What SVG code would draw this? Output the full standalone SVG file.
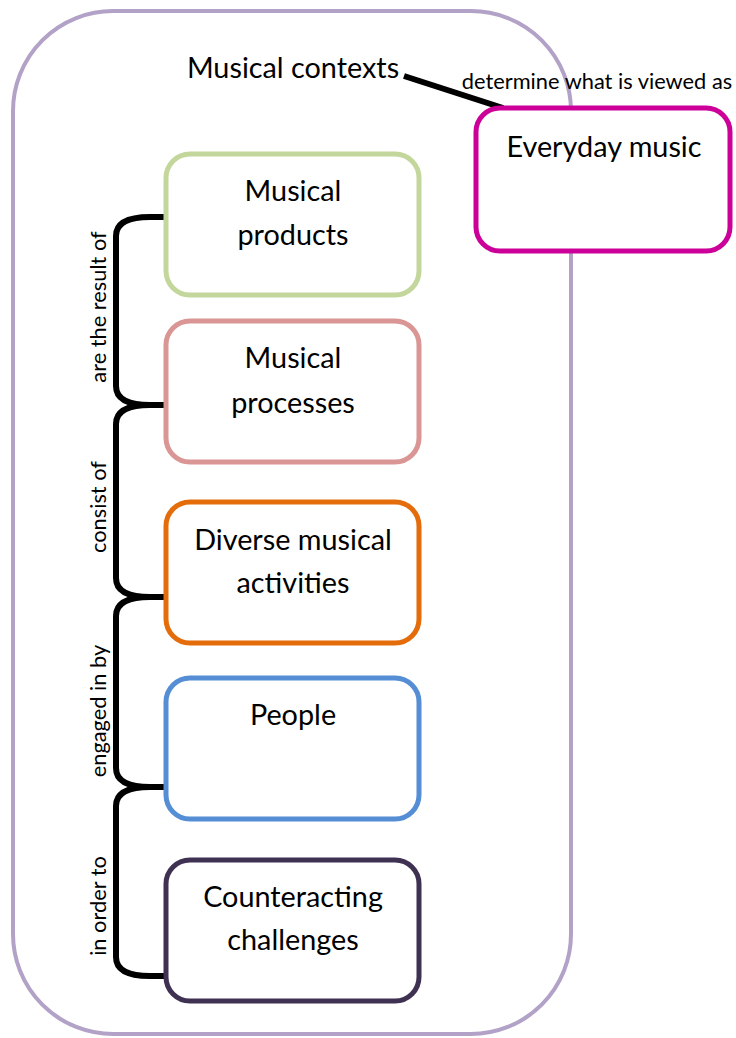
<svg xmlns="http://www.w3.org/2000/svg" width="736" height="1038" viewBox="0 0 736 1038">
  <style>
    .box { fill: #ffffff; stroke-width: 5; }
    .lbl { font-family: Lato, "Open Sans", sans-serif; font-size: 28.8px; fill: #000; text-anchor: middle; }
    .small { font-family: Lato, "Open Sans", sans-serif; font-size: 21.8px; fill: #000; text-anchor: middle; }
    .brace { fill: none; stroke: #000; stroke-width: 6; stroke-linejoin: round; }
  </style>
  <rect width="736" height="1038" fill="#ffffff"/>

  <!-- outer context frame -->
  <g id="musical-contexts">
    <rect x="13" y="11" width="558" height="1023" rx="100" ry="100" fill="none" stroke="#b3a2c7" stroke-width="4"/>
    <text class="lbl" x="293" y="78">Musical contexts</text>
  </g>

  <!-- connectors -->
  <g id="connectors">
    <line x1="404" y1="76" x2="503" y2="108" stroke="#000" stroke-width="6"/>
    <text class="small" x="597" y="89">determine what is viewed as</text>
    <path class="brace" d="M165,217 L150,217 Q116,217 116,236 L116,386 Q116,405 150,405 L165,405"/>
    <path class="brace" d="M165,405 L150,405 Q116,405 116,424 L116,578 Q116,597 150,597 L165,597"/>
    <path class="brace" d="M165,597 L150,597 Q116,597 116,616 L116,768 Q116,787 150,787 L165,787"/>
    <path class="brace" d="M165,787 L150,787 Q116,787 116,806 L116,957 Q116,976 150,976 L165,976"/>
    <text class="small" transform="translate(106,307) rotate(-90)">are the result of</text>
    <text class="small" transform="translate(106,507) rotate(-90)">consist of</text>
    <text class="small" transform="translate(106,711) rotate(-90)">engaged in by</text>
    <text class="small" transform="translate(106,906) rotate(-90)">in order to</text>
  </g>

  <g id="everyday-music">
    <rect class="box" x="476" y="108" width="254" height="143" rx="24" stroke="#cc0099"/>
    <text class="lbl" x="604" y="157">Everyday music</text>
  </g>

  <g id="musical-products">
    <rect class="box" x="166" y="154" width="253" height="141" rx="24" stroke="#c3d69b"/>
    <text class="lbl" x="293" y="201">Musical</text>
    <text class="lbl" x="293" y="245">products</text>
  </g>

  <g id="musical-processes">
    <rect class="box" x="166" y="321" width="253" height="141" rx="24" stroke="#d99694"/>
    <text class="lbl" x="293" y="368">Musical</text>
    <text class="lbl" x="293" y="413">processes</text>
  </g>

  <g id="diverse-musical-activities">
    <rect class="box" x="166" y="502" width="253" height="141" rx="24" stroke="#e46c0a"/>
    <text class="lbl" x="293" y="550">Diverse musical</text>
    <text class="lbl" x="293" y="593">activities</text>
  </g>

  <g id="people">
    <rect class="box" x="166" y="678" width="253" height="141" rx="24" stroke="#558ed5"/>
    <text class="lbl" x="293" y="725">People</text>
  </g>

  <g id="counteracting-challenges">
    <rect class="box" x="166" y="860" width="253" height="141" rx="24" stroke="#3f3151"/>
    <text class="lbl" x="293" y="907">Counteracting</text>
    <text class="lbl" x="293" y="950">challenges</text>
  </g>
</svg>
